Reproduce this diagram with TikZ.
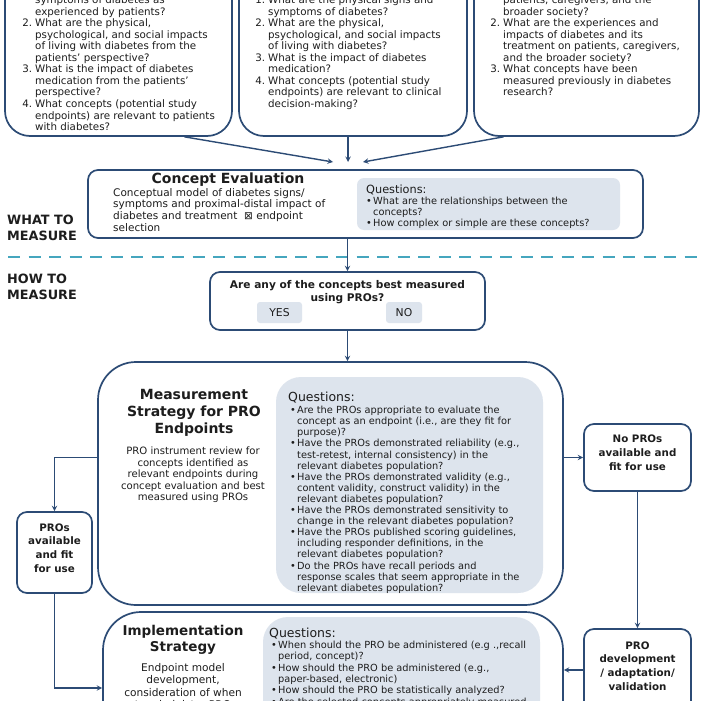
\documentclass[tikz,border=0pt]{standalone}
\usepackage{fontspec}
\setmainfont{DejaVu Sans}

\definecolor{boxblue}{HTML}{2C4B75}
\definecolor{qgray}{HTML}{DDE4ED}
\definecolor{dashteal}{HTML}{45A6BE}
\definecolor{inkblack}{HTML}{1D1D1D}

\newcommand{\qnum}[1]{\makebox[9pt][r]{#1}\hspace{3pt}}
\newcommand{\qind}{\hspace*{12pt}}
\newcommand{\qdot}{\makebox[7pt][l]{•}}
\newcommand{\qdin}{\hspace*{7pt}}

\tikzset{
  box/.style={draw=boxblue, line width=1.7pt, fill=white, rounded corners=#1, inner sep=0pt},
  box/.default=10pt,
  qbox/.style={fill=qgray, rounded corners=#1, inner sep=0pt},
  qbox/.default=7pt,
  conn/.style={draw=boxblue, line width=1.4pt, ->, >=stealth},
  body/.style={inner sep=0pt, align=left, anchor=north west, text=inkblack, font=\fontsize{10.3}{11.55}\selectfont},
  small/.style={body, font=\fontsize{9.8}{11.2}\selectfont},
  qhead/.style={inner sep=0pt, anchor=west, text=inkblack, font=\fontsize{12.5}{14}\selectfont},
  title/.style={inner sep=0pt, align=center, text=inkblack, font=\fontsize{14}{17}\selectfont\bfseries},
  mid/.style={inner sep=0pt, align=center, text=inkblack, font=\fontsize{10.1}{11.6}\selectfont},
  side/.style={inner sep=0pt, align=center, text=inkblack, font=\fontsize{10.3}{13.8}\selectfont\bfseries},
  stage/.style={inner sep=0pt, align=left, anchor=west, text=inkblack, font=\fontsize{12.8}{15.5}\selectfont\bfseries}
}

\begin{document}
\begin{tikzpicture}[x=1pt, y=-1pt]
\useasboundingbox (0,0) rectangle (701,701);
\fill[white] (0,0) rectangle (701,701);
\clip (0,0) rectangle (701,701);

% question boxes at the top
\node[box=25pt, minimum width=227pt, minimum height=236pt] (q1) at (118.5,18) {};
\node[box=25pt, minimum width=228pt, minimum height=236pt] (q2) at (353,18) {};
\node[box=25pt, minimum width=225pt, minimum height=236pt] (q3) at (586.5,18) {};

\node[body] (q1t) at (23,-4.5) {\qind symptoms of diabetes as\\
\qind experienced by patients?\\
\qnum{2.}What are the physical,\\
\qind psychological, and social impacts\\
\qind of living with diabetes from the\\
\qind patients' perspective?\\
\qnum{3.}What is the impact of diabetes\\
\qind medication from the patients'\\
\qind perspective?\\
\qnum{4.}What concepts (potential study\\
\qind endpoints) are relevant to patients\\
\qind with diabetes?};
\node[body] (q2t) at (256,-4.5) {\qnum{1.}What are the physical signs and\\
\qind symptoms of diabetes?\\
\qnum{2.}What are the physical,\\
\qind psychological, and social impacts\\
\qind of living with diabetes?\\
\qnum{3.}What is the impact of diabetes\\
\qind medication?\\
\qnum{4.}What concepts (potential study\\
\qind endpoints) are relevant to clinical\\
\qind decision-making?};
\node[body] (q3t) at (491,-4.5) {\qind patients, caregivers, and the\\
\qind broader society?\\
\qnum{2.}What are the experiences and\\
\qind impacts of diabetes and its\\
\qind treatment on patients, caregivers,\\
\qind and the broader society?\\
\qnum{3.}What concepts have been\\
\qind measured previously in diabetes\\
\qind research?};

% concept evaluation
\node[box, minimum width=555pt, minimum height=68pt] (ce) at (365.5,204) {};
\node[qbox, minimum width=263pt, minimum height=52pt] (ceq) at (488.5,204) {};
\node[title] (cet) at (228,180) {Concept Evaluation};
\node[body, font=\fontsize{10.5}{11.7}\selectfont] (ced) at (113,188) {Conceptual model of diabetes signs/\\
symptoms and proximal-distal impact of\\
diabetes and treatment\ \ ⊠ endpoint\\
selection};
\node[qhead, font=\fontsize{11.3}{13}\selectfont] (ceqh) at (366,190) {Questions:};
\node[small] (ceql) at (366,196.5) {\qdot What are the relationships between the\\
\qdin concepts?\\
\qdot How complex or simple are these concepts?};

\coordinate (cin) at (348,162);
\draw[conn] ([xshift=66pt]q1.south) -- ([xshift=-15pt]cin);
\draw[conn] (q2.south -| cin) -- (cin);
\draw[conn] ([xshift=-83pt]q3.south) -- ([xshift=15pt]cin);

% what / how split
\node[stage] (what) at (7,228) {WHAT TO\\MEASURE};
\node[stage] (how) at (7,287) {HOW TO\\MEASURE};
\draw[dashteal, line width=2.2pt, dash pattern=on 12pt off 8.5pt] (8,257) -- (701,257);

% decision
\node[box, minimum width=275pt, minimum height=58pt] (dec) at (347.5,301) {};
\node[inner sep=0pt, align=center, text=inkblack, font=\fontsize{10.6}{13}\selectfont\bfseries] (dect) at (347.5,292.5) {Are any of the concepts best measured\\using PROs?};
\node[qbox=3pt, minimum width=45pt, minimum height=21pt, font=\fontsize{10.8}{12}\selectfont, text=inkblack] (yes) at (279.5,312.5) {YES};
\node[qbox=3pt, minimum width=36pt, minimum height=21pt, font=\fontsize{10.8}{12}\selectfont, text=inkblack] (no) at (404,312.5) {NO};
\draw[conn] (ce.south -| dec.north) -- (dec.north);

% measurement strategy
\node[box=38pt, minimum width=465pt, minimum height=243pt] (ms) at (330.5,483.5) {};
\node[qbox=25pt, minimum width=267pt, minimum height=216pt] (msq) at (409.5,485) {};
\node[title] (mst) at (194,413) {Measurement\\Strategy for PRO\\Endpoints};
\node[mid] (msd) at (193,475) {PRO instrument review for\\
concepts identified as\\
relevant endpoints during\\
concept evaluation and best\\
measured using PROs};
\node[qhead] (msqh) at (288,398) {Questions:};
\node[small, font=\fontsize{9.8}{11.1}\selectfont] (msql) at (290,406) {\qdot Are the PROs appropriate to evaluate the\\
\qdin concept as an endpoint (i.e., are they fit for\\
\qdin purpose)?\\
\qdot Have the PROs demonstrated reliability (e.g.,\\
\qdin test-retest, internal consistency) in the\\
\qdin relevant diabetes population?\\
\qdot Have the PROs demonstrated validity (e.g.,\\
\qdin content validity, construct validity) in the\\
\qdin relevant diabetes population?\\
\qdot Have the PROs demonstrated sensitivity to\\
\qdin change in the relevant diabetes population?\\
\qdot Have the PROs published scoring guidelines,\\
\qdin including responder definitions, in the\\
\qdin relevant diabetes population?\\
\qdot Do the PROs have recall periods and\\
\qdin response scales that seem appropriate in the\\
\qdin relevant diabetes population?};
\draw[conn] (dec.south) -- (dec.south |- ms.north);

% side boxes
\node[box, minimum width=75pt, minimum height=81pt] (pa) at (54.5,552.5) {};
\node[side] (pat) at (54.5,548) {PROs\\available\\and fit\\for use};
\node[box, minimum width=107pt, minimum height=67pt] (np) at (637.5,457.5) {};
\node[side] (npt) at (637.5,452.5) {No PROs\\available and\\fit for use};
\node[box, minimum width=107pt, minimum height=82pt] (pd) at (637.5,670) {};
\node[side] (pdt) at (637.5,666) {PRO\\development\\/ adaptation/\\validation};

% implementation strategy
\node[box=38pt, minimum width=460pt, minimum height=152pt] (im) at (333,688) {};
\node[qbox=25pt, minimum width=277pt, minimum height=180pt] (imq) at (401.5,707) {};
\node[title, font=\fontsize{13.5}{16}\selectfont\bfseries] (imt) at (183,640) {Implementation\\Strategy};
\node[mid, font=\fontsize{10.6}{12.3}\selectfont] (imd) at (183,686) {Endpoint model\\
development,\\
consideration of when\\
to administer PRO};
\node[qhead] (imqh) at (269,634) {Questions:};
\node[small, font=\fontsize{9.8}{11.3}\selectfont] (imql) at (271,641) {\qdot When should the PRO be administered (e.g .,recall\\
\qdin period, concept)?\\
\qdot How should the PRO be administered (e.g.,\\
\qdin paper-based, electronic)\\
\qdot How should the PRO be statistically analyzed?\\
\qdot Are the selected concepts appropriately measured};

% connectors between boxes
\draw[conn] (ms.west |- np.west) -| (pa.north);
\draw[conn] (ms.east |- np.west) -- (np.west);
\draw[conn] (np.south) -- (pd.north);
\draw[conn] (pa.south) |- (im.west);
\draw[conn] (pd.west) -- (pd.west -| im.east);
\end{tikzpicture}
\end{document}
